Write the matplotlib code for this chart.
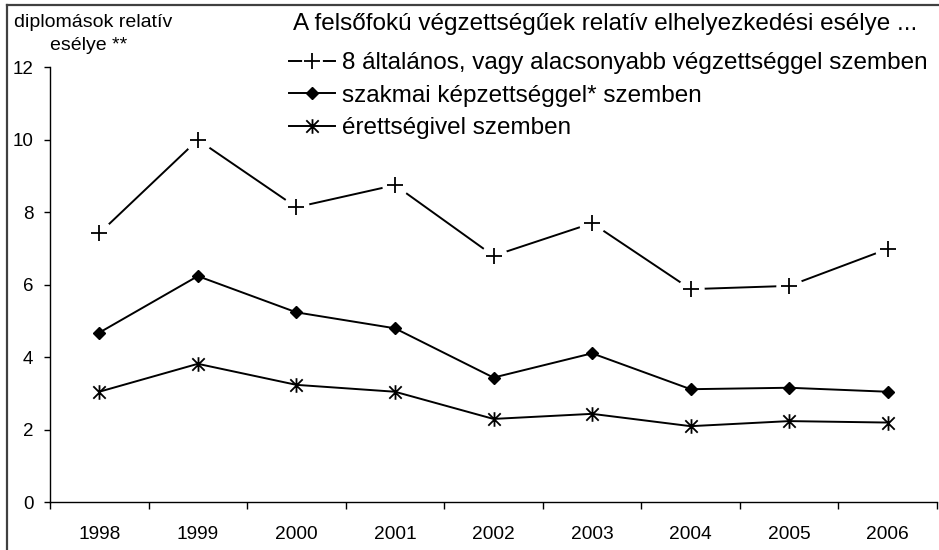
import matplotlib
matplotlib.use("Agg")
import matplotlib.pyplot as plt
from matplotlib.lines import Line2D
from matplotlib.path import Path
import numpy as np

plt.rcParams['font.family'] = ['Liberation Sans', 'DejaVu Sans']

years = ['1998', '1999', '2000', '2001', '2002', '2003', '2004', '2005', '2006']
vs_elementary = [7.42, 10.0, 8.14, 8.75, 6.80, 7.70, 5.88, 5.97, 6.99]
vs_vocational = [4.68, 6.24, 5.24, 4.80, 3.44, 4.11, 3.12, 3.16, 3.05]
vs_maturity = [3.05, 3.82, 3.24, 3.05, 2.30, 2.44, 2.10, 2.24, 2.20]

label_elem = '8 általános, vagy alacsonyabb végzettséggel szemben'
label_voc = 'szakmai képzettséggel* szemben'
label_mat = 'érettségivel szemben'
legend_title = 'A felsőfokú végzettségűek relatív elhelyezkedési esélye ...'
ylabel_line1 = 'diplomások relatív'
ylabel_line2 = 'esélye **'
yticks = [0, 2, 4, 6, 8, 10, 12]

W, H = 939, 550
fig = plt.figure(figsize=(W / 100, H / 100), dpi=100)

def fx(px):
    return px / W

def fy(py):
    return 1 - py / H

ax_left, ax_right, ax_top, ax_bottom = 50, 937, 67.3, 502.3
ax = fig.add_axes([fx(ax_left), fy(ax_bottom), fx(ax_right - ax_left), (ax_bottom - ax_top) / H])

x = np.arange(len(years))

# asterisk marker (X + vertical bar)
star = Path([(0, -1), (0, 1), (-0.85, -0.85), (0.85, 0.85), (-0.85, 0.85), (0.85, -0.85)],
            [Path.MOVETO, Path.LINETO, Path.MOVETO, Path.LINETO, Path.MOVETO, Path.LINETO])

lw = 1.4
l1, = ax.plot(x, vs_elementary, color='black', lw=lw, zorder=2)
g1, = ax.plot(x, vs_elementary, ls='none', marker='o', ms=19, mfc='white', mec='white', mew=0, zorder=3)
m1, = ax.plot(x, vs_elementary, ls='none', marker='+', ms=12, mew=1.3, color='black', zorder=4)

l2, = ax.plot(x, vs_vocational, color='black', lw=lw, marker='D', ms=6.3, mfc='black', mec='black', mew=1, zorder=4)
l3, = ax.plot(x, vs_maturity, color='black', lw=lw, marker=star, ms=10.5, mew=1.3, mfc='none', mec='black', zorder=4)

# legend proxies for the "+" series (smaller gaps in legend)
p_line = Line2D([], [], color='black', lw=lw)
p_gap = Line2D([], [], ls='none', marker='o', ms=15, mfc='white', mec='white', mew=0)
p_mark = Line2D([], [], ls='none', marker='+', ms=11, mew=1.3, color='black')

ax.set_xlim(-0.5, len(years) - 0.5)
ax.set_ylim(0, 12)
ax.set_yticks(yticks)
ax.set_yticklabels([str(v) for v in yticks], fontsize=13.5)
ax.tick_params(axis='y', direction='out', length=4, width=1, pad=8, color='black')

ax.set_xticks(np.arange(-0.5, len(years), 1.0))
ax.set_xticklabels([])
ax.set_xticks(x, minor=True)
ax.set_xticklabels(years, minor=True, fontsize=13.8)
ax.tick_params(axis='x', which='major', direction='out', length=5, width=1, color='black')
ax.tick_params(axis='x', which='minor', length=0, pad=17)

for s in ['top', 'right']:
    ax.spines[s].set_visible(False)
for s in ['left', 'bottom']:
    ax.spines[s].set_linewidth(1)
    ax.spines[s].set_color('black')

# outer frame (top and left)
fig.add_artist(Line2D([fx(7), fx(W)], [fy(5), fy(5)], color='#404040', lw=1.6, transform=fig.transFigure))
fig.add_artist(Line2D([fx(7), fx(7)], [fy(5), fy(H)], color='#404040', lw=1.6, transform=fig.transFigure))

# y label (two lines)
fig.text(fx(14), fy(27), ylabel_line1, ha='left', va='baseline', fontsize=14)
fig.text(fx(50), fy(50), ylabel_line2, ha='left', va='baseline', fontsize=14)

# legend title
fig.text(fx(293), fy(30), legend_title, ha='left', va='baseline', fontsize=17.5)

leg = fig.legend([(p_line, p_gap, p_mark), l2, l3], [label_elem, label_voc, label_mat],
                 loc='upper left', bbox_to_anchor=(fx(289), fy(52)), frameon=False,
                 fontsize=17.5, handlelength=1.9, handletextpad=0.3, labelspacing=0.44,
                 borderpad=0, borderaxespad=0)

fig.savefig('out.png', dpi=100)
